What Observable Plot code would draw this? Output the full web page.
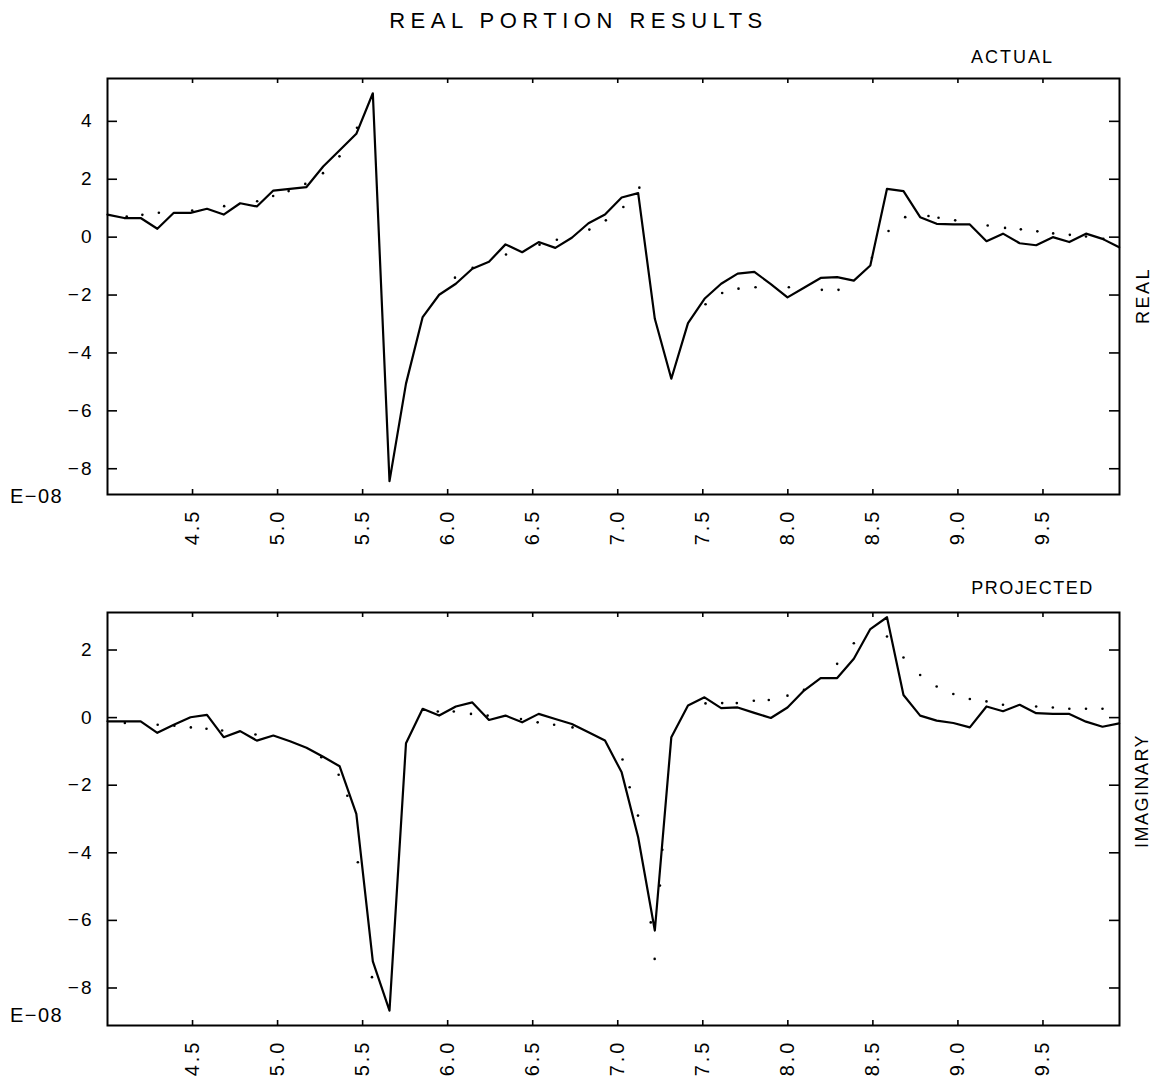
<!DOCTYPE html>
<html>
<head>
<meta charset="utf-8">
<script src="https://cdn.jsdelivr.net/npm/d3@7"></script>
<script src="https://cdn.jsdelivr.net/npm/@observablehq/plot@0.6"></script>
<style>
  html, body { margin: 0; padding: 0; background: #fff; }
  #chart svg { display: block; font-family: "Liberation Sans", "DejaVu Sans", sans-serif; }
</style>
</head>
<body>
<div id="chart"></div>
<script>
// frequency axis (shared by both panels)
const freq = [4.000,4.098,4.195,4.293,4.390,4.488,4.585,4.683,4.780,4.878,
  4.975,5.073,5.170,5.268,5.365,5.463,5.560,5.658,5.755,5.853,
  5.950,6.048,6.145,6.243,6.340,6.438,6.535,6.633,6.730,6.828,
  6.925,7.023,7.120,7.218,7.315,7.413,7.510,7.608,7.705,7.803,
  7.900,7.998,8.095,8.193,8.290,8.388,8.485,8.583,8.680,8.778,
  8.875,8.973,9.070,9.168,9.265,9.363,9.460,9.558,9.655,9.753,
  9.850,9.948];

// REAL portion, actual (solid line), units of 1E-08
const realActual = [0.78,0.66,0.66,0.29,0.84,0.84,0.98,0.78,1.17,1.06,
  1.61,1.67,1.73,2.44,3.00,3.57,4.97,-8.43,-5.06,-2.76,
  -1.99,-1.61,-1.09,-0.85,-0.25,-0.52,-0.17,-0.37,-0.02,0.48,
  0.78,1.37,1.52,-2.82,-4.89,-2.97,-2.13,-1.61,-1.26,-1.20,
  -1.62,-2.08,-1.75,-1.41,-1.38,-1.50,-0.98,1.67,1.59,0.69,
  0.46,0.44,0.44,-0.14,0.12,-0.21,-0.28,0.00,-0.17,0.12,
  -0.06,-0.35];

// REAL portion, projected (dots)
const realProjX = [4.113,4.205,4.302,4.498,4.686,4.880,4.974,5.065,5.163,5.267,
  5.364,5.467,6.043,6.147,6.343,6.540,6.642,6.833,6.930,7.033,
  7.127,7.516,7.614,7.710,7.810,8.006,8.200,8.298,8.494,8.592,
  8.690,8.827,8.886,8.984,9.175,9.277,9.370,9.467,9.560,9.658,
  9.753,9.855];
const realProjY = [0.71,0.77,0.84,0.92,1.07,1.24,1.42,1.59,1.84,2.21,
  2.79,3.78,-1.40,-1.06,-0.60,-0.26,-0.09,0.26,0.58,1.04,
  1.71,-2.32,-1.93,-1.78,-1.73,-1.73,-1.82,-1.82,-0.71,0.21,
  0.69,0.73,0.67,0.58,0.40,0.32,0.27,0.20,0.13,0.08,
  0.02,-0.06];

// IMAGINARY portion, actual (solid line)
const imagActual = [-0.11,-0.11,-0.11,-0.45,-0.21,0.01,0.08,-0.58,-0.40,-0.68,
  -0.53,-0.70,-0.89,-1.16,-1.44,-2.85,-7.21,-8.67,-0.76,0.26,
  0.06,0.33,0.45,-0.07,0.06,-0.14,0.11,-0.04,-0.19,-0.43,
  -0.68,-1.62,-3.54,-6.30,-0.58,0.36,0.60,0.28,0.30,0.14,
  -0.01,0.30,0.80,1.17,1.17,1.74,2.62,2.97,0.67,0.06,
  -0.09,-0.16,-0.29,0.33,0.19,0.38,0.13,0.11,0.11,-0.12,
  -0.27,-0.17];

// IMAGINARY portion, projected (dots)
const imagProjX = [4.102,4.295,4.393,4.490,4.582,4.674,4.870,5.257,5.359,5.410,
  5.472,5.555,5.942,6.036,6.137,6.235,6.431,6.529,6.626,6.734,
  7.028,7.070,7.119,7.194,7.217,7.248,7.262,7.516,7.614,7.700,
  7.800,7.888,7.998,8.095,8.290,8.388,8.583,8.680,8.778,8.875,
  8.973,9.070,9.168,9.265,9.460,9.558,9.655,9.753,9.850];
const imagProjY = [-0.16,-0.21,-0.24,-0.29,-0.33,-0.38,-0.50,-1.17,-1.69,-2.31,
  -4.28,-7.68,0.18,0.18,0.11,0.06,-0.04,-0.14,-0.21,-0.29,
  -1.24,-2.06,-2.90,-6.06,-7.14,-4.97,-3.91,0.42,0.43,0.43,
  0.50,0.52,0.65,0.82,1.59,2.20,2.40,1.78,1.26,0.92,
  0.70,0.55,0.48,0.38,0.33,0.30,0.26,0.26,0.26];

// ticks
const xTicks = [4.5,5.0,5.5,6.0,6.5,7.0,7.5,8.0,8.5,9.0,9.5];
const xTickLabels = ["4.5","5.0","5.5","6.0","6.5","7.0","7.5","8.0","8.5","9.0","9.5"];
const yTicksReal = [-8,-6,-4,-2,0,2,4];
const yTicksImag = [-8,-6,-4,-2,0,2];

const W = 1159, ML = 107, MR = 40;
const FW = W - ML - MR;

function panel({height, marginTop, marginBottom, yDomain, yTicks, line, px, py, extras}) {
  const FH = height - marginTop - marginBottom;
  return Plot.plot({
    width: W, height, marginLeft: ML, marginRight: MR, marginTop, marginBottom,
    x: {domain: [4.0, 9.95]},
    y: {domain: yDomain},
    marks: [
      Plot.frame({stroke: "#000", strokeWidth: 2}),
      // inward ticks on all four sides
      Plot.tickY(yTicks, {y: d => d, insetRight: FW - 10, stroke: "#000", strokeWidth: 1.6}),
      Plot.tickY(yTicks, {y: d => d, insetLeft: FW - 10, stroke: "#000", strokeWidth: 1.6}),
      Plot.tickX(xTicks, {x: d => d, insetTop: FH - 5, stroke: "#000", strokeWidth: 1.6}),
      Plot.tickX(xTicks, {x: d => d, insetBottom: FH - 5, stroke: "#000", strokeWidth: 1.6}),
      Plot.axisX(xTicks, {tickSize: 0, tickRotate: -90, tickPadding: 14, fontSize: 20,
        tickFormat: (d, i) => xTickLabels[i], label: null, fill: "#000"}),
      Plot.axisY(yTicks, {tickSize: 0, tickPadding: 14, fontSize: 19, label: null, fill: "#000"}),
      Plot.line(line, {x: freq, y: d => d, stroke: "#000", strokeWidth: 2.2, curve: "linear"}),
      Plot.dot(py, {x: px, y: d => d, r: 1.3, fill: "#000", stroke: null}),
      ...extras
    ]
  });
}

const topPanel = panel({
  height: 560, marginTop: 78, marginBottom: 66,
  yDomain: [-8.89, 5.48], yTicks: yTicksReal,
  line: realActual, px: realProjX, py: realProjY,
  extras: [
    Plot.text(["REAL PORTION RESULTS"], {frameAnchor: "top", dx: -35, dy: -58, fontSize: 22, textAnchor: "middle", lineAnchor: "middle", fill: "#000"}),
    Plot.text(["ACTUAL"], {frameAnchor: "top-right", dx: -107, dy: -21, fontSize: 18, textAnchor: "middle", lineAnchor: "middle", fill: "#000"}),
    Plot.text(["REAL"], {frameAnchor: "right", dx: 24, dy: 9, rotate: -90, fontSize: 18, textAnchor: "middle", lineAnchor: "middle", fill: "#000"}),
    Plot.text(["E\u221208"], {frameAnchor: "bottom-left", dx: -71, dy: 2, fontSize: 20, textAnchor: "middle", lineAnchor: "middle", fill: "#000"})
  ]
});

const bottomPanel = panel({
  height: 529, marginTop: 52, marginBottom: 64,
  yDomain: [-9.11, 3.11], yTicks: yTicksImag,
  line: imagActual, px: imagProjX, py: imagProjY,
  extras: [
    Plot.text(["PROJECTED"], {frameAnchor: "top-right", dx: -87, dy: -24, fontSize: 18, textAnchor: "middle", lineAnchor: "middle", fill: "#000"}),
    Plot.text(["IMAGINARY"], {frameAnchor: "right", dx: 23, dy: -28, rotate: -90, fontSize: 18, textAnchor: "middle", lineAnchor: "middle", fill: "#000"}),
    Plot.text(["E\u221208"], {frameAnchor: "bottom-left", dx: -71, dy: -10, fontSize: 20, textAnchor: "middle", lineAnchor: "middle", fill: "#000"})
  ]
});

// letter spacing to mimic the wide plotter lettering
const spacing = {"REAL PORTION RESULTS": 5.5, "ACTUAL": 2, "PROJECTED": 1.5, "REAL": 2.5, "IMAGINARY": 1.5, "E\u221208": 1.5};
for (const svg of [topPanel, bottomPanel]) {
  d3.select(svg).selectAll("text").each(function () {
    const t = this.textContent;
    if (spacing[t] != null) this.style.letterSpacing = spacing[t] + "px";
    else if (xTickLabels.includes(t)) this.style.letterSpacing = "3px";
    else this.style.letterSpacing = "2px";
  });
}

const chart = document.getElementById("chart");
chart.appendChild(topPanel);
chart.appendChild(bottomPanel);
</script>
</body>
</html>
